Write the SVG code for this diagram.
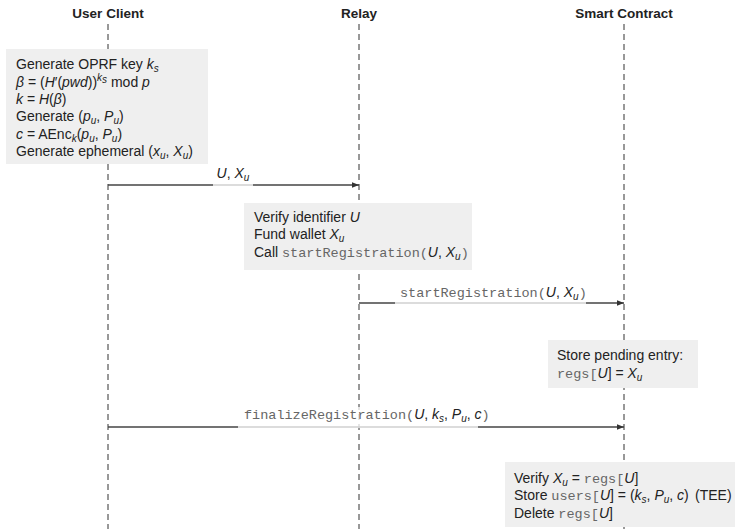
<svg xmlns="http://www.w3.org/2000/svg" width="735" height="529" viewBox="0 0 735 529">
<defs>
<style>
text{font-family:"Liberation Sans","DejaVu Sans",sans-serif;font-size:14px;fill:#222}
.hdr{font-weight:bold;font-size:13.5px;text-anchor:middle}
.i{font-style:italic}
.m{font-family:"Liberation Mono","DejaVu Sans Mono",monospace;font-size:13.5px;fill:#666}
.sub{font-size:10px}
.life{stroke:#333;stroke-width:1;stroke-dasharray:6 4;fill:none}
.box{fill:#efefef}
.msg{stroke:#444;stroke-width:1.4;fill:none;marker-end:url(#ah)}
.lbg{fill:#fff;opacity:0.75}
</style>
<marker id="ah" viewBox="0 0 10 10" refX="10" refY="5" markerWidth="7" markerHeight="7" markerUnits="userSpaceOnUse" orient="auto">
<path d="M0,1 L10,5 L0,9 Z" fill="#333"/>
</marker>
</defs>
<rect width="735" height="529" fill="#fff"/>
<g id="lifelines">
<line class="life" x1="108" y1="24" x2="108" y2="529"/>
<line class="life" x1="359" y1="24" x2="359" y2="529"/>
<line class="life" x1="624" y1="24" x2="624" y2="529"/>
</g>
<g id="user-client"><text class="hdr" x="108" y="18">User Client</text></g>
<g id="relay"><text class="hdr" x="359" y="18">Relay</text></g>
<g id="smart-contract"><text class="hdr" x="624" y="18">Smart Contract</text></g>
<g id="box-client">
<rect class="box" x="6" y="49" width="202" height="115"/>
<text x="16" y="69">Generate OPRF key <tspan class="i">k</tspan><tspan class="sub i" dy="3">s</tspan></text>
<text x="16" y="87"><tspan class="i">β</tspan> = (<tspan class="i">H</tspan>′(<tspan class="i">pwd</tspan>))<tspan class="sub i" dy="-6">k</tspan><tspan class="sub i" dy="2" font-size="8">s</tspan><tspan dy="4"> mod </tspan><tspan class="i">p</tspan></text>
<text x="16" y="104"><tspan class="i">k</tspan> = <tspan class="i">H</tspan>(<tspan class="i">β</tspan>)</text>
<text x="16" y="121">Generate (<tspan class="i">p</tspan><tspan class="sub i" dy="3">u</tspan><tspan dy="-3">, </tspan><tspan class="i">P</tspan><tspan class="sub i" dy="3">u</tspan><tspan dy="-3">)</tspan></text>
<text x="16" y="139"><tspan class="i">c</tspan> = AEnc<tspan class="sub i" dy="3">k</tspan><tspan dy="-3">(</tspan><tspan class="i">p</tspan><tspan class="sub i" dy="3">u</tspan><tspan dy="-3">, </tspan><tspan class="i">P</tspan><tspan class="sub i" dy="3">u</tspan><tspan dy="-3">)</tspan></text>
<text x="16" y="156">Generate ephemeral (<tspan class="i">x</tspan><tspan class="sub i" dy="3">u</tspan><tspan dy="-3">, </tspan><tspan class="i">X</tspan><tspan class="sub i" dy="3">u</tspan><tspan dy="-3">)</tspan></text>
</g>
<g id="box-relay">
<rect class="box" x="244" y="203" width="228" height="67"/>
<text x="254" y="222">Verify identifier <tspan class="i">U</tspan></text>
<text x="254" y="239">Fund wallet <tspan class="i">X</tspan><tspan class="sub i" dy="3">u</tspan></text>
<text x="254" y="257">Call <tspan class="m">startRegistration(</tspan><tspan class="i">U</tspan>, <tspan class="i">X</tspan><tspan class="sub i" dy="3">u</tspan><tspan class="m" dy="-3">)</tspan></text>
</g>
<g id="box-store">
<rect class="box" x="548" y="340" width="150" height="48"/>
<text x="557" y="360">Store pending entry:</text>
<text x="557" y="378"><tspan class="m">regs[</tspan><tspan class="i">U</tspan>] = <tspan class="i">X</tspan><tspan class="sub i" dy="3">u</tspan></text>
</g>
<g id="box-finalize">
<rect class="box" x="505" y="462" width="230" height="65"/>
<text x="514" y="483">Verify <tspan class="i">X</tspan><tspan class="sub i" dy="3">u</tspan><tspan dy="-3"> = </tspan><tspan class="m">regs[</tspan><tspan class="i">U</tspan>]</text>
<text x="514" y="500">Store <tspan class="m">users[</tspan><tspan class="i">U</tspan>] = (<tspan class="i">k</tspan><tspan class="sub i" dy="3">s</tspan><tspan dy="-3">, </tspan><tspan class="i">P</tspan><tspan class="sub i" dy="3">u</tspan><tspan dy="-3">, </tspan><tspan class="i">c</tspan>)<tspan x="695">(TEE)</tspan></text>
<text x="514" y="518">Delete <tspan class="m">regs[</tspan><tspan class="i">U</tspan>]</text>
</g>
<g id="connectors">
<line class="msg" x1="108" y1="185" x2="359" y2="185"/>
<rect class="lbg" x="213" y="166" width="40" height="20"/>
<text x="233" y="178" text-anchor="middle"><tspan class="i">U</tspan>, <tspan class="i">X</tspan><tspan class="sub i" dy="3">u</tspan></text>
<line class="msg" x1="359" y1="303" x2="624" y2="303"/>
<rect class="lbg" x="395" y="284" width="191" height="20"/>
<text x="400" y="297"><tspan class="m">startRegistration(</tspan><tspan class="i">U</tspan>, <tspan class="i">X</tspan><tspan class="sub i" dy="3">u</tspan><tspan class="m" dy="-3">)</tspan></text>
<line class="msg" x1="108" y1="427" x2="624" y2="427"/>
<rect class="lbg" x="238" y="407" width="240" height="21"/>
<text x="244" y="419"><tspan class="m">finalizeRegistration(</tspan><tspan class="i">U</tspan>, <tspan class="i">k</tspan><tspan class="sub i" dy="3">s</tspan><tspan dy="-3">, </tspan><tspan class="i">P</tspan><tspan class="sub i" dy="3">u</tspan><tspan dy="-3">, </tspan><tspan class="i">c</tspan><tspan class="m">)</tspan></text>
</g>
</svg>
